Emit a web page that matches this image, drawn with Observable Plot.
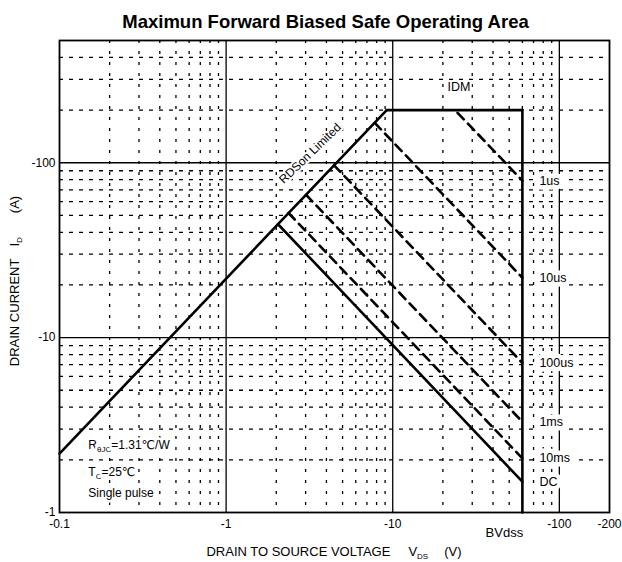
<!DOCTYPE html>
<html><head><meta charset="utf-8">
<script src="https://cdn.jsdelivr.net/npm/d3@7"></script>
<script src="https://cdn.jsdelivr.net/npm/@observablehq/plot@0.6"></script>
<style>body{margin:0;background:#fff;}</style>
</head><body><div id="chart"></div>
<script>
const FONT = "Arial, 'Liberation Sans', 'DejaVu Sans', sans-serif";
const title = "Maximun Forward Biased Safe Operating Area";
const xTicks = [0.1, 1, 10, 100, 200];
const yTicks = [1, 10, 100, 500];
const xMajor = [1, 10, 100];
const yMajor = [10, 100];
const xMinor = [0.2, 0.3, 0.4, 0.5, 0.6, 0.7, 0.8, 0.9, 2, 3, 4, 5, 6, 7, 8, 9, 20, 30, 40, 50, 60, 70, 80, 90];
const yMinor = [2, 3, 4, 5, 6, 7, 8, 9, 20, 30, 40, 50, 60, 70, 80, 90, 200, 300, 400];

const BVDSS = 60;
const IDM = 200;
// RDSon limit line (V, A)
const rdsonV = [0.1, 9.2];
const rdsonI = [2.17, 200];
// DC line
const dcV = [2.05, 60];
const dcI = [44.5, 1.5];
// pulse lines
const pulseNames = ["1us", "10us", "100us", "1ms", "10ms"];
const pulseStartV = [24.5, 7.8, 4.45, 3.02, 2.37];
const pulseStartI = [193, 169, 96.7, 65.6, 51.6];
const pulseEndI = [79, 22, 7.16, 3.3, 2.04];
const endLabels = ["1us", "10us", "100us", "1ms", "10ms", "DC"];
const endLabelI = [79, 22, 7.16, 3.3, 2.04, 1.5];

const solidRows = [
  {seg: "rdson", v: rdsonV[0], i: rdsonI[0]}, {seg: "rdson", v: rdsonV[1], i: rdsonI[1]},
  {seg: "idm", v: rdsonV[1], i: IDM}, {seg: "idm", v: BVDSS, i: IDM},
  {seg: "bv", v: BVDSS, i: IDM}, {seg: "bv", v: BVDSS, i: 1},
  {seg: "dc", v: dcV[0], i: dcI[0]}, {seg: "dc", v: dcV[1], i: dcI[1]}
];
const pulseRows = pulseNames.flatMap((n, k) => [
  {name: n, v: pulseStartV[k], i: pulseStartI[k]},
  {name: n, v: BVDSS, i: pulseEndI[k]}
]);
const labelRows = endLabels.map((n, k) => ({name: n, v: BVDSS, i: endLabelI[k]}));

const notes = [
  {v: 0.15, i: 2.42, parts: [["R"], ["θJC", 1], ["=1.31℃/W"]]},
  {v: 0.15, i: 1.70, parts: [["T"], ["C", 1], ["=25℃"]]},
  {v: 0.15, i: 1.28, parts: [["Single pulse"]]}
];

function addParts(text, parts, subSize) {
  let inSub = false;
  for (const [s, sub] of parts) {
    const t = text.append("tspan").text(s);
    if (sub && !inSub) { t.attr("font-size", subSize).attr("dy", 3); inSub = true; }
    else if (!sub && inSub) { t.attr("dy", -3); inSub = false; }
  }
}

function notesMark(index, scales, values, dims) {
  const g = d3.create("svg:g").attr("font-family", FONT).attr("fill", "black").attr("font-size", 12)
    .attr("text-anchor", "start").attr("stroke", "white").attr("stroke-width", 5)
    .attr("stroke-linejoin", "round").attr("paint-order", "stroke");
  for (const n of notes) {
    const t = g.append("text").attr("x", scales.x(n.v)).attr("y", scales.y(n.i)).attr("dy", "0.35em").attr("text-anchor", "start");
    addParts(t, n.parts, 8);
  }
  return g.node();
}

function axisTitles(index, scales, values, dims) {
  const {width, height, marginLeft, marginRight, marginTop, marginBottom} = dims;
  const g = d3.create("svg:g").attr("font-family", FONT).attr("fill", "black").attr("font-size", 13);
  const cx = (marginLeft + width - marginRight) / 2;
  const tx = g.append("text").attr("x", cx).attr("y", height - 6).attr("text-anchor", "middle");
  tx.append("tspan").text("DRAIN TO SOURCE VOLTAGE");
  tx.append("tspan").attr("dx", 18).text("V");
  tx.append("tspan").attr("font-size", 8).attr("dy", 3).text("DS");
  tx.append("tspan").attr("dy", -3).attr("dx", 16).text("(V)");
  const cy = (marginTop + height - marginBottom) / 2 + 5;
  const ty = g.append("text").attr("transform", `translate(19,${cy}) rotate(-90)`).attr("text-anchor", "middle");
  ty.append("tspan").text("DRAIN CURRENT");
  ty.append("tspan").attr("dx", 12).text("I");
  ty.append("tspan").attr("font-size", 8).attr("dy", 3).text("D");
  ty.append("tspan").attr("dy", -3).attr("dx", 24).text("(A)");
  return g.node();
}

const chart = Plot.plot({
  width: 622, height: 562,
  marginTop: 40, marginBottom: 50, marginLeft: 59, marginRight: 13,
  style: {fontFamily: FONT, fontSize: "12px", background: "white", color: "black", overflow: "visible"},
  x: {type: "log", domain: [0.1, 200]},
  y: {type: "log", domain: [1, 500]},
  marks: [
    Plot.ruleX(xMinor, {stroke: "black", strokeWidth: 1.3, strokeDasharray: "3,8"}),
    Plot.ruleY(yMinor, {stroke: "black", strokeWidth: 1.3, strokeDasharray: "4,6"}),
    Plot.ruleX(xMajor, {stroke: "black", strokeWidth: 1.3}),
    Plot.ruleY(yMajor, {stroke: "black", strokeWidth: 1.3}),
    Plot.text(["RDSon Limited"], {x: () => 3.19, y: () => 113, rotate: -44, fill: "black", stroke: "white", strokeWidth: 4, fontSize: 12}),
    Plot.text(["IDM"], {x: () => 25, y: () => 270, fill: "black", stroke: "white", strokeWidth: 4, fontSize: 12.5}),
    Plot.line(pulseRows, {x: "v", y: "i", z: "name", stroke: "black", strokeWidth: 2.6, strokeDasharray: "9,6"}),
    Plot.line(solidRows, {x: "v", y: "i", z: "seg", stroke: "black", strokeWidth: 2.6}),
    Plot.text(labelRows, {x: "v", y: "i", text: "name", dx: 17, textAnchor: "start", fill: "black", stroke: "white", strokeWidth: 9, fontSize: 12.5}),
    Plot.text(["BVdss"], {x: () => BVDSS, frameAnchor: "bottom", dy: 24, dx: -18, fill: "black", fontSize: 13}),
    Plot.text([title], {frameAnchor: "top", lineAnchor: "middle", dy: -18, dx: -9, fontWeight: "bold", fontSize: 18.5, fill: "black"}),
    Plot.frame({stroke: "black", strokeWidth: 1.8}),
    Plot.axisX({ticks: xTicks, tickFormat: d => "-" + d, tickSize: 0, tickPadding: 7, fontSize: 12, label: null}),
    Plot.axisY({ticks: yTicks, tickFormat: d => "-" + d, tickSize: 0, tickPadding: 4, fontSize: 12, label: null}),
    notesMark,
    axisTitles
  ]
});
document.getElementById("chart").append(chart);
</script>
</body></html>
